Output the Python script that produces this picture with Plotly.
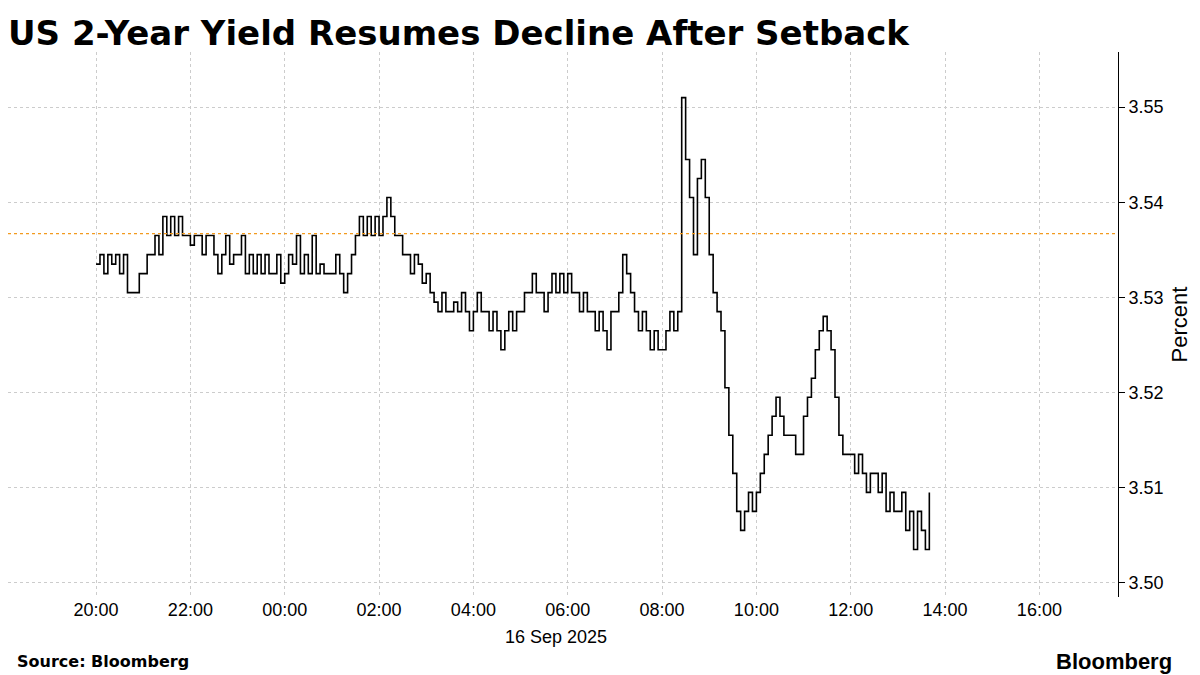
import pandas as pd
import plotly.graph_objects as go

# 5-minute closes, 15 Sep 2025 20:00 -> 16 Sep 2025 13:40 (NY time)
start = "2025-09-15 20:00"
yields = [
    3.5335, 3.5345, 3.5325, 3.5345, 3.5335, 3.5345, 3.5325, 3.5345, 3.5305, 3.5305, 3.5305, 3.5325,
    3.5325, 3.5345, 3.5345, 3.5365, 3.5345, 3.5385, 3.5365, 3.5385, 3.5365, 3.5385, 3.5365, 3.5365,
    3.5355, 3.5365, 3.5365, 3.5345, 3.5365, 3.5365, 3.5345, 3.5325, 3.5345, 3.5365, 3.5335, 3.5345,
    3.5345, 3.5365, 3.5325, 3.5345, 3.5325, 3.5345, 3.5325, 3.5345, 3.5325, 3.5325, 3.5345, 3.5315,
    3.5325, 3.5345, 3.5335, 3.5365, 3.5325, 3.5345, 3.5325, 3.5365, 3.5325, 3.5335, 3.5325, 3.5325,
    3.5325, 3.5345, 3.5325, 3.5305, 3.5325, 3.5345, 3.5365, 3.5385, 3.5365, 3.5385, 3.5365, 3.5385,
    3.5365, 3.5385, 3.5405, 3.5385, 3.5365, 3.5365, 3.5345, 3.5345, 3.5325, 3.5345, 3.5335, 3.5315,
    3.5325, 3.5305, 3.5295, 3.5285, 3.5305, 3.5285, 3.5285, 3.5295, 3.5285, 3.5305, 3.5285, 3.5265,
    3.5285, 3.5305, 3.5285, 3.5285, 3.5265, 3.5285, 3.5265, 3.5245, 3.5265, 3.5285, 3.5265, 3.5285,
    3.5285, 3.5305, 3.5305, 3.5325, 3.5305, 3.5305, 3.5285, 3.5305, 3.5325, 3.5305, 3.5325, 3.5305,
    3.5325, 3.5305, 3.5305, 3.5285, 3.5305, 3.5285, 3.5285, 3.5265, 3.5285, 3.5265, 3.5245, 3.5285,
    3.5285, 3.5305, 3.5345, 3.5325, 3.5305, 3.5285, 3.5265, 3.5285, 3.5265, 3.5245, 3.5265, 3.5245,
    3.5245, 3.5265, 3.5285, 3.5265, 3.5285, 3.5510, 3.5445, 3.5405, 3.5345, 3.5425, 3.5445, 3.5405,
    3.5345, 3.5305, 3.5285, 3.5265, 3.5205, 3.5155, 3.5115, 3.5075, 3.5055, 3.5075, 3.5095, 3.5075,
    3.5095, 3.5115, 3.5135, 3.5155, 3.5175, 3.5195, 3.5175, 3.5155, 3.5155, 3.5155, 3.5135, 3.5135,
    3.5175, 3.5195, 3.5215, 3.5245, 3.5265, 3.5280, 3.5265, 3.5245, 3.5195, 3.5155, 3.5135, 3.5135,
    3.5135, 3.5115, 3.5135, 3.5115, 3.5095, 3.5115, 3.5115, 3.5095, 3.5115, 3.5075, 3.5095, 3.5075,
    3.5075, 3.5095, 3.5055, 3.5075, 3.5035, 3.5075, 3.5055, 3.5035, 3.5095,
]
times = pd.date_range(start, periods=len(yields), freq="5min")
reference_level = 3.5367

fig = go.Figure()
fig.add_trace(go.Scatter(x=times, y=yields, mode="lines", line=dict(color="black", width=1.6, shape="hv")))
fig.add_hline(y=reference_level, line=dict(color="#f29a1f", width=1.4, dash="dot"))

font = "Liberation Sans"
fig.update_layout(
    width=1200, height=675,
    margin=dict(l=0, r=90, t=44, b=86),
    plot_bgcolor="white", paper_bgcolor="white",
    showlegend=False,
    font=dict(family=font, size=18, color="black"),
    title=dict(text="<b>US 2-Year Yield Resumes Decline After Setback</b>", x=0.0, xanchor="left",
               y=0.963, yanchor="middle", font=dict(family="DejaVu Sans", size=34, color="black")),
    xaxis=dict(
        range=["2025-09-15 18:08", "2025-09-16 17:40"],
        tickformat="%H:%M", dtick=2 * 3600 * 1000, tick0="2025-09-15 20:00",
        showgrid=True, gridcolor="#cccccc", griddash="dot",
        ticks="", showline=False, zeroline=False,
    ),
    yaxis=dict(
        side="right", range=[3.4985, 3.5558], dtick=0.01, tickformat=".2f",
        showgrid=True, gridcolor="#cccccc", griddash="dot",
        ticks="outside", ticklen=6, tickcolor="black",
        showline=True, linecolor="black", linewidth=1, zeroline=False,
        title=dict(text="Percent", font=dict(size=22), standoff=8),
    ),
)
fig.add_annotation(text="16 Sep 2025", x="2025-09-16 05:45", y=0, xref="x", yref="paper",
                   yanchor="top", yshift=-28, showarrow=False)
fig.add_annotation(text="<b>Source: Bloomberg</b>", x=0.006, y=-0.119, xref="paper", yref="paper",
                   xanchor="left", yanchor="middle", showarrow=False,
                   font=dict(family="DejaVu Sans", size=16))
fig.add_annotation(text="<b>Bloomberg</b>", x=1.0, y=-0.119, xref="paper", yref="paper",
                   xanchor="left", xshift=-64, yanchor="middle", showarrow=False,
                   font=dict(family=font, size=22))
fig.write_html("out.html")
